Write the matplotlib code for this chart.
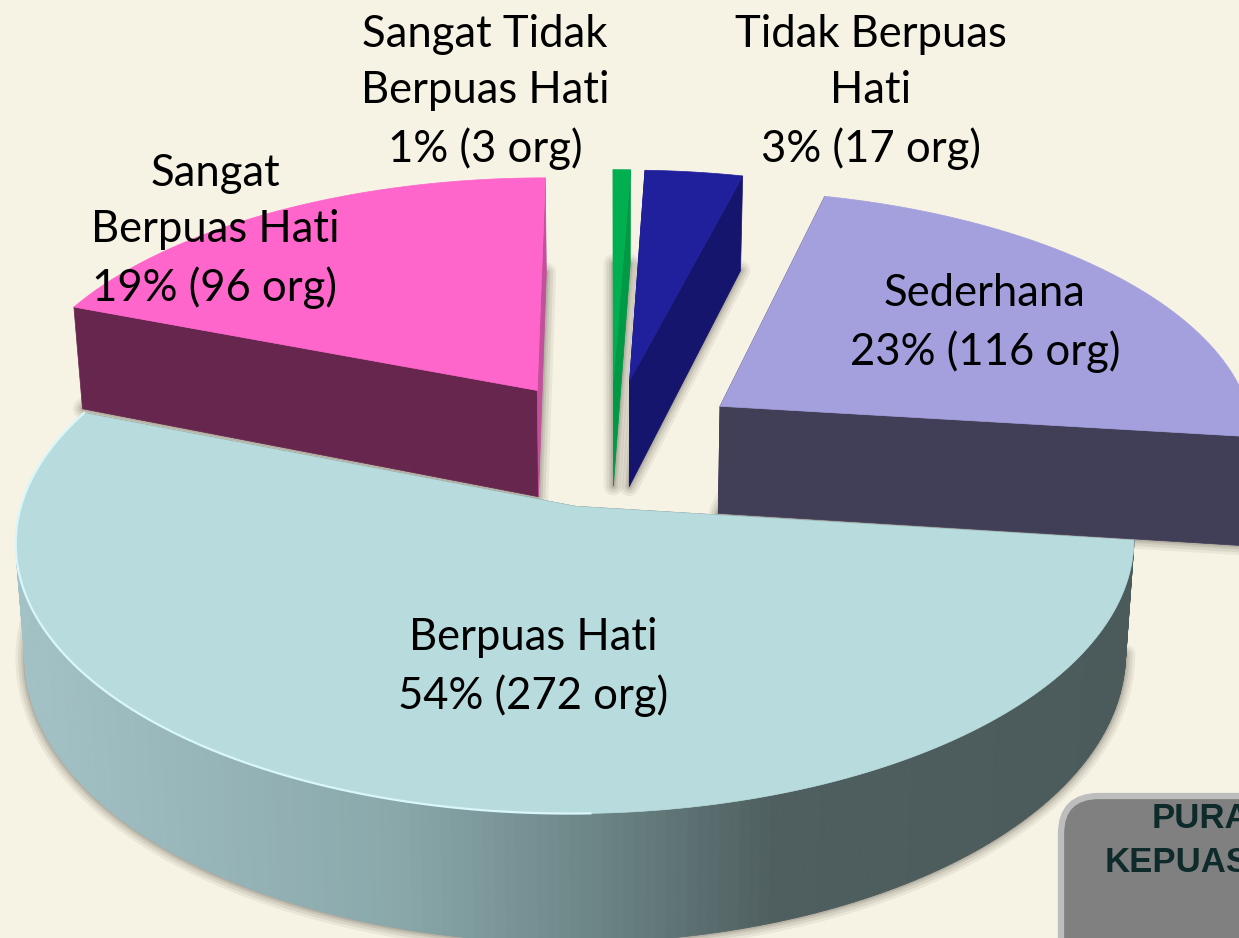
import numpy as np
import matplotlib
matplotlib.use("Agg")
import matplotlib.pyplot as plt
from matplotlib.patches import Polygon, FancyBboxPatch
from matplotlib.colors import LinearSegmentedColormap

# ---- data (clockwise from the top of the pie)
categories = ["Sangat Tidak\nBerpuas Hati", "Tidak Berpuas\nHati", "Sederhana",
              "Berpuas Hati", "Sangat\nBerpuas Hati"]
counts = [3, 17, 116, 272, 96]
box_lines = ["PURA", "KEPUAS"]

# ---- style
top_colors = ["#00B050", "#21209C", "#A3A0DD", "#B8DCDE", "#FF66CC"]
start_cut = ["#00B050", "#14146B", "#413E58", "#4B5A5A", "#66264E"]
end_cut = ["#009A45", "#15156E", "#413E58", "#4B5A5A", "#C4509C"]
arc_colors = ["#009A45", "#1C1C84", "#413E58", None, "#66264E"]
explode = [0.25, 0.25, 0.25, 0.26, 0.25]
label_xy = [(485, 92), (871, 92), (985, 323), (533, 667), (215, 231)]
BG = "#F6F2E4"
CX, CY, RF, AY, PERSP, DEPTH, SHRINK = 611, 441, 537, 251, 0.125, 109, 0.016
START = 0.0

plt.rcParams['font.family'] = ['Lato', 'DejaVu Sans']
fig = plt.figure(figsize=(12.39, 9.38), dpi=100, facecolor=BG)
ax = fig.add_axes([0, 0, 1, 1])
ax.set_xlim(0, 1239); ax.set_ylim(938, 0); ax.axis("off")


def project(X, Y, z=0.0):
    X, Y = np.asarray(X, float), np.asarray(Y, float)
    s = 1 / (1 - PERSP * Y)
    k = 1 - SHRINK * z
    return CX + RF * X * s * k, CY + AY * Y * s + DEPTH * s * z


def rim(theta_deg, e, mid, z=0.0):
    t = np.radians(theta_deg)
    m = np.radians(mid)
    return project(np.sin(t) + e * np.sin(m), -np.cos(t) - e * np.cos(m), z)


total = sum(counts)
edges = START + np.cumsum([0] + counts) / total * 360
wedges = []
for i in range(len(counts)):
    a0, a1 = edges[i], edges[i + 1]
    wedges.append((a0, a1, (a0 + a1) / 2, explode[i]))

# soft shadows = blurred bottom faces
for a0, a1, mid, e in wedges:
    th = np.linspace(a0, a1, 160)
    bx, by = rim(th, e, mid, 1.0)
    ax0, ay0 = project(e * np.sin(np.radians(mid)), -e * np.cos(np.radians(mid)), 1.0)
    xs = np.r_[ax0, bx]; ys = np.r_[ay0, by]
    for lw, al in [(14, .10), (10, .14), (6, .18), (3, .25)]:
        ax.add_patch(Polygon(np.c_[xs, ys], closed=True, fc="#7C776C", ec="#7C776C",
                             lw=lw, alpha=al, joinstyle="round", zorder=1))

teal_cmap = LinearSegmentedColormap.from_list(
    "side", [(0, "#A3C2C6"), (.33, "#8BA9AB"), (.5, "#6F898B"), (.68, "#4F5F5F"), (1, "#4B5A5A")])

order = [0, 1, 4, 2, 3]
z = 2
for i in order:
    a0, a1, mid, e = wedges[i]
    m = np.radians(mid)
    apx, apy = project(e * np.sin(m), -e * np.cos(m))
    apx1, apy1 = project(e * np.sin(m), -e * np.cos(m), 1.0)
    # cut faces
    for ang, col in ((a0, start_cut[i]), (a1, end_cut[i])):
        rx, ry = rim(ang, e, mid)
        rx1, ry1 = rim(ang, e, mid, 1.0)
        ax.add_patch(Polygon([(apx, apy), (rx, ry), (rx1, ry1), (apx1, apy1)], closed=True,
                             fc=col, ec=col, lw=.5, zorder=z))
    # outer curved side
    th = np.linspace(a0, a1, 200)
    for t0, t1 in zip(th[:-1], th[1:]):
        if np.cos(np.radians((t0 + t1) / 2)) > 0.05:
            continue
        x0, y0 = rim(t0, e, mid); x1, y1 = rim(t1, e, mid)
        x2, y2 = rim(t1, e, mid, 1.0); x3, y3 = rim(t0, e, mid, 1.0)
        col = arc_colors[i]
        if col is None:
            col = teal_cmap(np.clip(((x0 + x1) / 2 - 20) / 1110, 0, 1))
        ax.add_patch(Polygon([(x0, y0), (x1, y1), (x2, y2), (x3, y3)], closed=True,
                             fc=col, ec=col, lw=.6, zorder=z + 1))
    # top face
    tx, ty = rim(th, e, mid)
    ax.add_patch(Polygon(np.c_[np.r_[apx, tx], np.r_[apy, ty]], closed=True,
                         fc=top_colors[i], ec=top_colors[i], lw=.5, zorder=z + 2))
    if i == 3:
        keep = (tx < 600)
        ax.plot(tx[keep], ty[keep], color="#D9F7FA", lw=1.6, zorder=z + 2.5)
    z += 3

# labels
for name, n, (x, y) in zip(categories, counts, label_xy):
    ax.text(x, y, f"{name}\n{round(n / total * 100)}% ({n} org)", ha="center", va="center",
            fontsize=31.4, color="black", linespacing=1.47, zorder=40)

# box
ax.add_patch(FancyBboxPatch((1061, 796), 300, 300, boxstyle="round,pad=0,rounding_size=38",
                            fc="#808080", ec="#BDBDBD", lw=4.5, zorder=30))
ax.text(1152, 818, box_lines[0], fontsize=25, fontweight="bold", family="Liberation Sans",
        color="#0F2A2A", va="center", ha="left", zorder=31, clip_on=True)
ax.text(1105, 862, box_lines[1], fontsize=25, fontweight="bold", family="Liberation Sans",
        color="#0F2A2A", va="center", ha="left", zorder=31, clip_on=True)

fig.savefig("out.png", dpi=100, facecolor=BG)
